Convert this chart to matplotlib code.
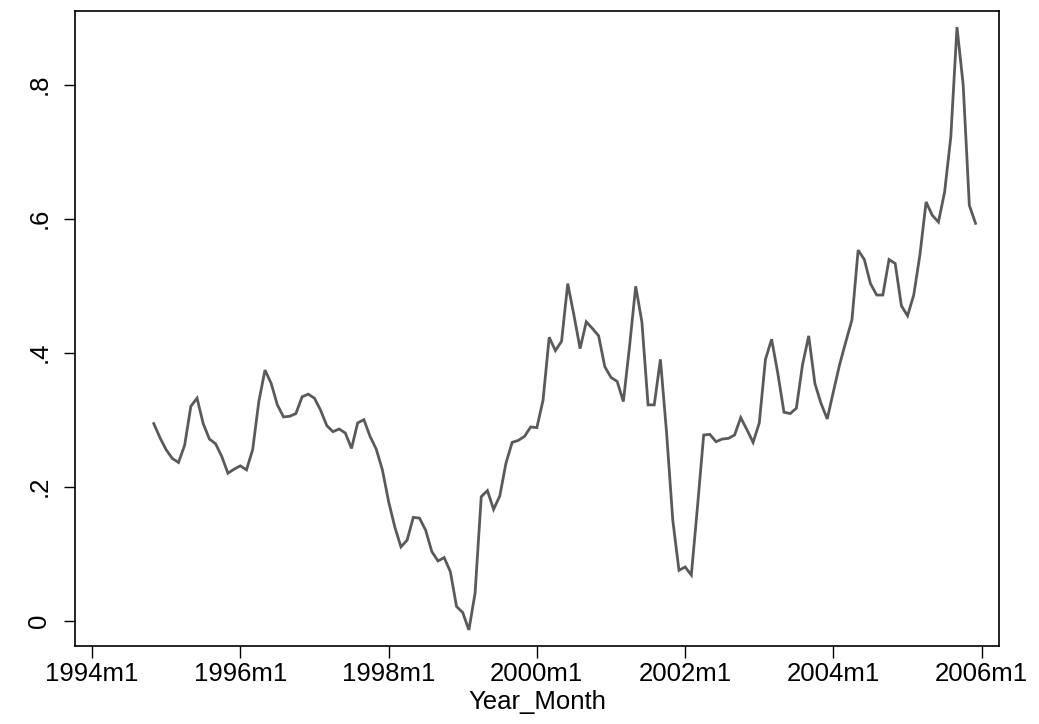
import numpy as np
import matplotlib
matplotlib.use("Agg")
import matplotlib.pyplot as plt

plt.rcParams['font.family'] = ['Liberation Sans', 'DejaVu Sans']

# monthly series, 1994m11 .. 2005m12 (month index counted from 1994m1 = 0)
start_month = 10
values = [
    0.294, 0.273, 0.255, 0.242, 0.236, 0.262, 0.320, 0.332, 0.294, 0.271,  # 1994m11-1995m8
    0.264, 0.245, 0.220, 0.226, 0.231, 0.225, 0.255, 0.327, 0.374, 0.354,  # 1995m9-1996m6
    0.322, 0.304, 0.305, 0.309, 0.334, 0.338, 0.332, 0.314, 0.291, 0.282,  # 1996m7-1997m4
    0.286, 0.280, 0.257, 0.295, 0.300, 0.275, 0.256, 0.225, 0.178, 0.140,  # 1997m5-1998m2
    0.110, 0.120, 0.154, 0.153, 0.135, 0.103, 0.089, 0.094, 0.073, 0.021,  # 1998m3-1998m12
    0.012, -0.014, 0.041, 0.185, 0.194, 0.166, 0.186, 0.235, 0.266, 0.269,  # 1999m1-1999m10
    0.275, 0.289, 0.288, 0.329, 0.423, 0.403, 0.417, 0.503, 0.456, 0.406,  # 1999m11-2000m8
    0.446, 0.436, 0.425, 0.379, 0.363, 0.357, 0.327, 0.409, 0.499, 0.446,  # 2000m9-2001m6
    0.322, 0.322, 0.390, 0.280, 0.150, 0.075, 0.080, 0.068, 0.170, 0.277,  # 2001m7-2002m4
    0.278, 0.267, 0.271, 0.272, 0.277, 0.303, 0.285, 0.266, 0.295, 0.390,  # 2002m5-2003m2
    0.420, 0.369, 0.311, 0.309, 0.317, 0.382, 0.425, 0.354, 0.324, 0.301,  # 2003m3-2003m12
    0.342, 0.382, 0.416, 0.449, 0.553, 0.539, 0.503, 0.486, 0.486, 0.539,  # 2004m1-2004m10
    0.533, 0.470, 0.455, 0.486, 0.546, 0.625, 0.605, 0.595, 0.640, 0.722,  # 2004m11-2005m8
    0.886, 0.800, 0.620, 0.593,                                            # 2005m9-2005m12
]

x_ticks = [0, 24, 48, 72, 96, 120, 144]
x_tick_labels = ['1994m1', '1996m1', '1998m1', '2000m1', '2002m1', '2004m1', '2006m1']
y_ticks = [0, 0.2, 0.4, 0.6, 0.8]
y_tick_labels = ['0', '.2', '.4', '.6', '.8']

months = np.arange(start_month, start_month + len(values))

fig = plt.figure(figsize=(10.39, 7.24), dpi=100)
ax = fig.add_axes([0.0722, 0.1077, 0.8893, 0.8771])

ax.plot(months, values, color='#5a5a5a', linewidth=2.0, solid_joinstyle='miter')

ax.set_xlim(-2.75, 146.8)
ax.set_ylim(-0.038, 0.910)

ax.set_xticks(x_ticks)
ax.set_xticklabels(x_tick_labels, fontsize=18.5)
ax.set_yticks(y_ticks)
ax.set_yticklabels(y_tick_labels, fontsize=18.5, rotation=90, va='center')

ax.tick_params(axis='x', length=8.5, width=1.0, pad=3, color='black')
ax.tick_params(axis='y', length=8.0, width=1.0, pad=9, color='black')

for s in ax.spines.values():
    s.set_linewidth(1.2)
    s.set_color('black')

ax.set_xlabel('Year_Month', fontsize=18.5, labelpad=3)

fig.savefig('out.png', dpi=100, facecolor='white')
